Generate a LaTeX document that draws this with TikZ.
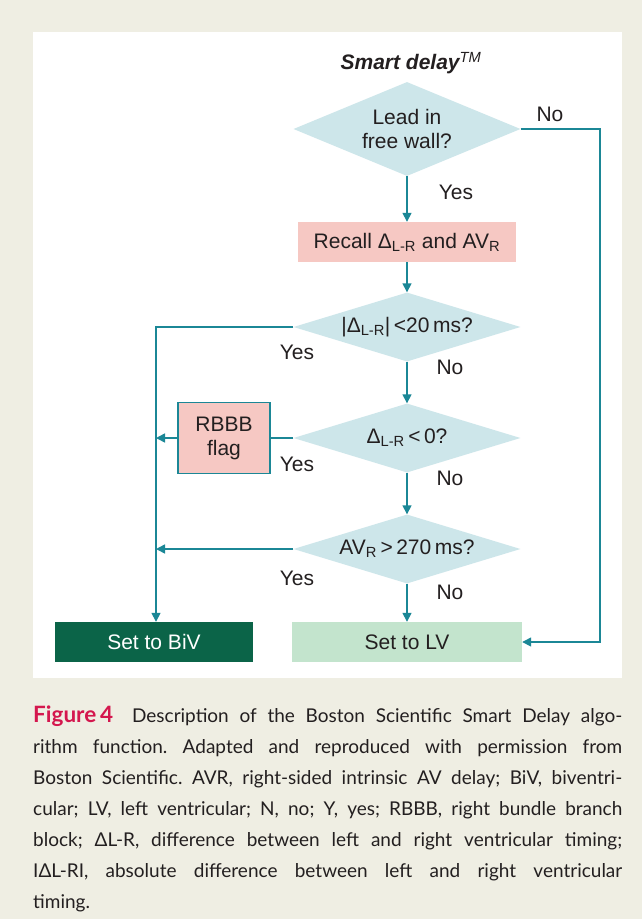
\documentclass[tikz,border=0pt]{standalone}
\usepackage{fontspec}
\setmainfont{Liberation Sans}
\newfontfamily\capfont{Lato}
\usetikzlibrary{shapes.geometric,arrows.meta}
\definecolor{pagebg}{HTML}{EFEEE3}
\definecolor{flowline}{HTML}{1B8796}
\definecolor{askfill}{HTML}{CDE6EA}
\definecolor{pinkfill}{HTML}{F6C8C3}
\definecolor{bivfill}{HTML}{0B6448}
\definecolor{lvfill}{HTML}{C3E4CD}
\definecolor{figred}{HTML}{D4174E}
\definecolor{captext}{HTML}{231F20}
\begin{document}
\begin{tikzpicture}[x=1pt,y=-1pt,
  every node/.style={font=\fontsize{21}{24}\selectfont, text=captext},
  ask/.style={diamond, fill=askfill, inner sep=0pt, aspect=2.8, minimum width=227pt, minimum height=69pt, align=center},
  pinkbox/.style={rectangle, fill=pinkfill, inner sep=0pt, align=center},
  endbox/.style={rectangle, inner sep=0pt, minimum width=#1, minimum height=40pt},
  flow/.style={draw=flowline, line width=1.5pt},
  tip/.style={flow, -{Triangle[length=9pt,width=9pt]}},
  answer/.style={inner sep=0pt}]
\fill[pagebg] (0,0) rectangle (642,919);
\fill[white] (33,32) rectangle (622,678);
\useasboundingbox (0,0) rectangle (642,919);
\node [inner sep=0pt] (title) at (411,63) {\bfseries\itshape Smart delay\textsuperscript{\mdseries TM}};
\node [ask, aspect=2.4, minimum height=94pt] (wall) at (407,129) {Lead in\\free wall?};
\node [pinkbox, minimum width=218pt, minimum height=40pt] (recall) at (407,242) {Recall Δ\textsubscript{L-R} and AV\textsubscript{R}};
\node [ask] (absdiff) at (407,327) {|Δ\textsubscript{L-R}|\,<20\,ms?};
\node [ask] (sign) at (407,438) {Δ\textsubscript{L-R}\,<\,0?};
\node [pinkbox, draw=flowline, line width=1.2pt, minimum width=92pt, minimum height=71pt] (rbbb) at (224,438) {RBBB\\flag};
\node [ask] (avr) at (407,549) {AV\textsubscript{R}\,>\,270\,ms?};
\node [endbox=198pt, fill=bivfill, text=white] (biv) at (154,642) {Set to BiV};
\node [endbox=230pt, fill=lvfill] (lv) at (407,642) {Set to LV};
\coordinate (lft) at (156,327);
\coordinate (rgt) at (600,129);
\draw [tip] (wall.south) -- (recall.north);
\draw [tip] (recall.south) -- (absdiff.north);
\draw [tip] (absdiff.south) -- (sign.north);
\draw [tip] (sign.south) -- (avr.north);
\draw [tip] (avr.south) -- (lv.north);
\draw [tip] (wall.east) -- (rgt) -- (rgt |- lv.east) -- (lv.east);
\draw [tip] (absdiff.west) -- (lft) -- (lft |- biv.north);
\draw [flow] (sign.west) -- (rbbb.east);
\draw [tip] (rbbb.west) -- (lft |- rbbb.west);
\draw [tip] (avr.west) -- (lft |- avr.west);
\node [answer] (no1) at (550,114) {No};
\node [answer] (yes1) at (456,192) {Yes};
\node [answer] (yes2) at (297,352) {Yes};
\node [answer] (no2) at (450,367) {No};
\node [answer] (yes3) at (297,464) {Yes};
\node [answer] (no3) at (450,478) {No};
\node [answer] (yes4) at (297,578) {Yes};
\node [answer] (no4) at (450,592) {No};
\node [anchor=north west, inner sep=0pt, text width=589pt, align=justify, font=\capfont\fontsize{19}{31}\selectfont] (caption) at (33,706)
  {\hyphenpenalty10000 \emergencystretch20pt \frenchspacing
  \textcolor{figred}{\fontsize{22.5}{31}\selectfont\bfseries Figure\,4}\hspace{1em}Description of the Boston Scientific Smart Delay algo-\linebreak rithm function. Adapted and reproduced with permission from\linebreak Boston Scientific. AVR, right-sided intrinsic AV delay; BiV, biventri-\linebreak cular; LV, left ventricular; N, no; Y, yes; RBBB, right bundle branch\linebreak block; ΔL-R, difference between left and right ventricular timing;\linebreak IΔL-RI, absolute difference between left and right ventricular\linebreak timing.};
\end{tikzpicture}
\end{document}
